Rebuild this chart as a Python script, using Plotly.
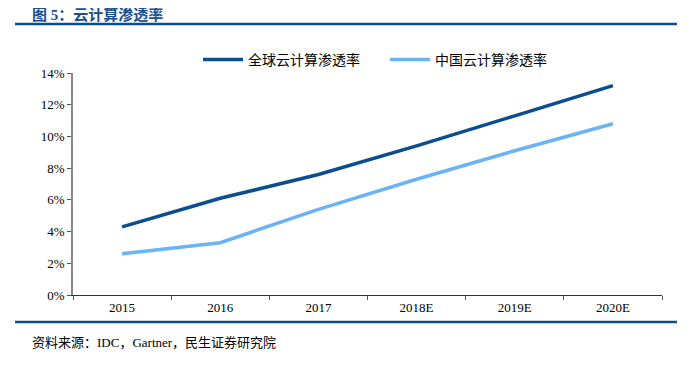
import plotly.graph_objects as go

categories = ["2015", "2016", "2017", "2018E", "2019E", "2020E"]
global_rate = [4.3, 6.1, 7.6, 9.4, 11.3, 13.2]
china_rate = [2.6, 3.3, 5.4, 7.3, 9.1, 10.8]
y_ticks = [0, 2, 4, 6, 8, 10, 12, 14]
y_tick_labels = [f"{v}%" for v in y_ticks]

FONT = "Liberation Serif, Noto Sans CJK SC, serif"
DARK = "#0B4E8E"
LIGHT = "#6AB4F5"

PW, PH = 589, 222  # plot area size in px

fig = go.Figure()
fig.add_trace(go.Scatter(x=categories, y=global_rate, mode="lines",
                         name="全球云计算渗透率", line=dict(color=DARK, width=3.5)))
fig.add_trace(go.Scatter(x=categories, y=china_rate, mode="lines",
                         name="中国云计算渗透率", line=dict(color=LIGHT, width=3.5)))

fig.update_layout(
    width=689, height=368,
    margin=dict(l=65, r=35, t=65, b=81),
    paper_bgcolor="white", plot_bgcolor="white",
    font=dict(family=FONT, size=13, color="#000000"),
    showlegend=True,
    legend=dict(orientation="h", x=(198-73)/PW, xanchor="left", y=1 + 13/PH, yanchor="middle",
                font=dict(size=14, family=FONT), itemwidth=40, entrywidth=132,
                tracegroupgap=0, bgcolor="rgba(0,0,0,0)"),
    xaxis=dict(type="category", range=[-0.5, 5.5], showgrid=False,
               showline=True, linecolor="#333333", linewidth=1,
               ticks="outside", tickson="boundaries", ticklen=4, tickcolor="#555555",
               tickfont=dict(size=13, family=FONT), fixedrange=True),
    yaxis=dict(range=[0, 14], tickvals=y_ticks, ticktext=y_tick_labels, showgrid=False,
               showline=True, linecolor="#888888", linewidth=1.5,
               ticks="outside", ticklen=4, tickcolor="#555555",
               tickfont=dict(size=13, family=FONT), zeroline=False, fixedrange=True),
)

# title and rules
fig.add_annotation(text="<b>图 5：云计算渗透率</b>", xref="paper", yref="paper",
                   x=-43/PW, y=1 + (73-14)/PH, xanchor="left", yanchor="middle",
                   showarrow=False, font=dict(size=15, color="#1B4F8F", family=FONT))
fig.add_shape(type="line", xref="paper", yref="paper",
              x0=-58/PW, x1=(677-73)/PW, y0=1 + (73-24)/PH, y1=1 + (73-24)/PH,
              line=dict(color=DARK, width=2.5))
fig.add_shape(type="line", xref="paper", yref="paper",
              x0=-58/PW, x1=(677-73)/PW, y0=-(322-295)/PH, y1=-(322-295)/PH,
              line=dict(color=DARK, width=2.5))
fig.add_annotation(text="资料来源：IDC，Gartner，民生证券研究院", xref="paper", yref="paper",
                   x=-43/PW, y=-(342-295)/PH, xanchor="left", yanchor="middle",
                   showarrow=False, font=dict(size=13, color="#000000", family=FONT))

fig.write_html("out.html")
